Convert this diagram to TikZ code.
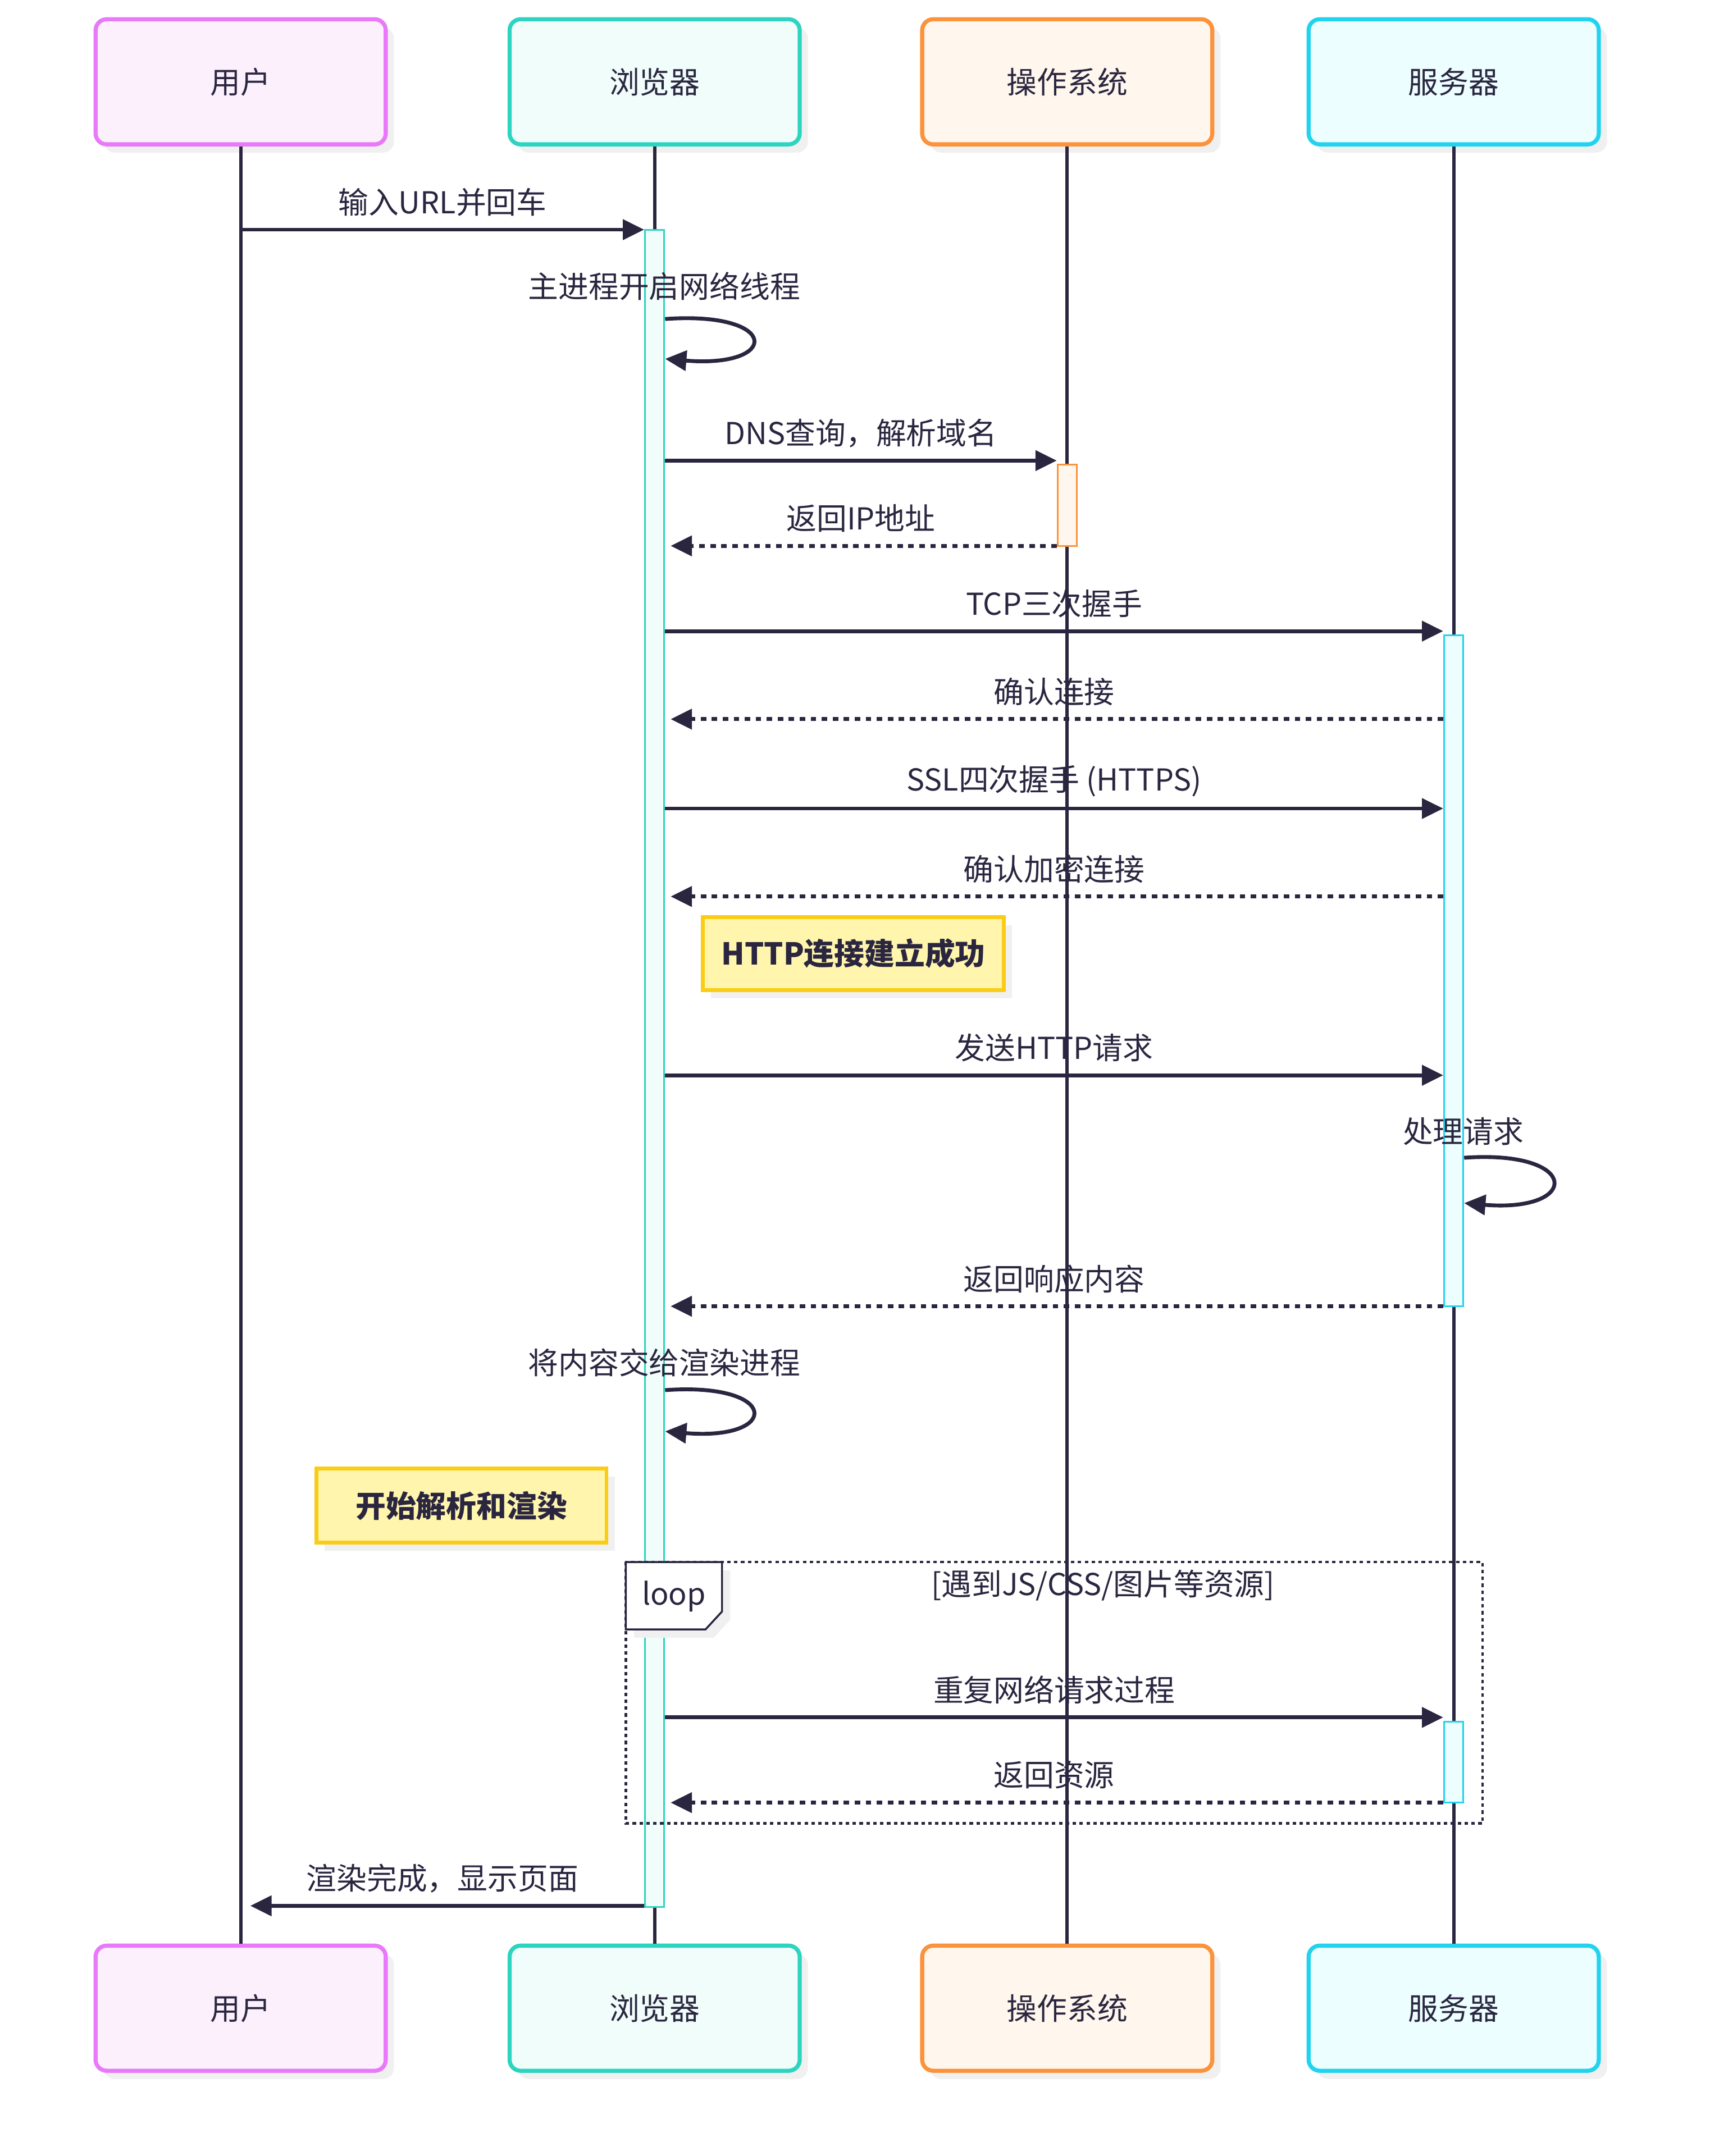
\documentclass[tikz,border=0pt]{standalone}
\usepackage{fontspec}
\setmainfont{Noto Sans CJK SC}
\usetikzlibrary{arrows.meta,shadows}
\definecolor{seqink}{HTML}{2A2640}
\definecolor{userline}{HTML}{E879F9}
\definecolor{userfill}{HTML}{FDF0FD}
\definecolor{browline}{HTML}{2DD4BF}
\definecolor{browfill}{HTML}{F0FDFA}
\definecolor{osline}{HTML}{FB923C}
\definecolor{osfill}{HTML}{FFF7ED}
\definecolor{servline}{HTML}{22D3EE}
\definecolor{servfill}{HTML}{ECFEFF}
\definecolor{noteline}{HTML}{FACC15}
\definecolor{notefill}{HTML}{FFF5AD}

\begin{document}
\begin{tikzpicture}[x=0.02cm, y=-0.02cm,
    every node/.style={font=\fontsize{12.5}{15}\selectfont, text=seqink},
    shade/.style={drop shadow={shadow xshift=0.12cm, shadow yshift=-0.12cm, fill=black!6, opacity=1}},
    actor/.style={draw, line width=1.7pt, rounded corners=0.16cm,
      minimum width=4.22cm, minimum height=1.82cm, shade},
    life/.style={draw=seqink, line width=1.4pt},
    act/.style={draw, line width=0.7pt, minimum width=0.28cm, inner sep=0pt},
    msg/.style={draw=seqink, line width=1.6pt, -{Triangle[length=0.31cm, width=0.29cm]}},
    reply/.style={msg, dash pattern=on 0.08cm off 0.08cm, shorten >=0.08cm},
    lbl/.style={midway, yshift=0.4cm},
    note/.style={draw=noteline, fill=notefill, line width=1.6pt, shade,
      font=\fontsize{12.5}{15}\selectfont\bfseries}]
  \useasboundingbox (0,0) rectangle (1243,1568);

  % participants, top and bottom
  \node[actor, draw=userline, fill=userfill] (uTop) at (175,59.5) {用户};
  \node[actor, draw=browline, fill=browfill] (bTop) at (476,59.5) {浏览器};
  \node[actor, draw=osline, fill=osfill]     (oTop) at (776,59.5) {操作系统};
  \node[actor, draw=servline, fill=servfill] (sTop) at (1057,59.5) {服务器};
  \node[actor, draw=userline, fill=userfill] (uBot) at (175,1460.5) {用户};
  \node[actor, draw=browline, fill=browfill] (bBot) at (476,1460.5) {浏览器};
  \node[actor, draw=osline, fill=osfill]     (oBot) at (776,1460.5) {操作系统};
  \node[actor, draw=servline, fill=servfill] (sBot) at (1057,1460.5) {服务器};

  % lifelines
  \draw[life] (uTop.south) -- (uBot.north);
  \draw[life] (bTop.south) -- (bBot.north);
  \draw[life] (oTop.south) -- (oBot.north);
  \draw[life] (sTop.south) -- (sBot.north);

  % activations
  \node[act, draw=browline, fill=browfill, minimum height=24.4cm] (bAct) at (476,777) {};
  \node[act, draw=osline, fill=osfill, minimum height=1.18cm] (oAct) at (776,367.5) {};
  \node[act, draw=servline, fill=servfill, minimum height=9.76cm] (sAct) at (1057,706) {};
  \node[act, draw=servline, fill=servfill, minimum height=1.18cm] (sAct2) at (1057,1281.5) {};

  % message rows
  \coordinate (r1) at (0,167);
  \coordinate (s1a) at (0,232);  \coordinate (s1b) at (0,261);
  \coordinate (r3) at (0,335);
  \coordinate (r4) at (0,397);
  \coordinate (r5) at (0,459);
  \coordinate (r6) at (0,523);
  \coordinate (r7) at (0,588);
  \coordinate (r8) at (0,652);
  \coordinate (r9) at (0,782);
  \coordinate (s2a) at (0,842);  \coordinate (s2b) at (0,875);
  \coordinate (r11) at (0,950);
  \coordinate (s3a) at (0,1011); \coordinate (s3b) at (0,1041);
  \coordinate (r13) at (0,1249);
  \coordinate (r14) at (0,1311);
  \coordinate (r15) at (0,1386);

  \draw[msg] (uTop |- r1) -- node[lbl] {输入URL并回车} (bAct.west |- r1);

  % browser starts its network thread
  \node (selfB1) at (483,208) {主进程开启网络线程};
  \draw[msg] (bAct.east |- s1a) .. controls +(84,-6) and +(84,7) .. (bAct.east |- s1b);

  \draw[msg] (bAct.east |- r3) -- node[lbl] {DNS查询，解析域名} (oAct.west |- r3);
  \draw[reply] (oAct.west |- r4) -- node[lbl] {返回IP地址} (bAct.east |- r4);
  \draw[msg] (bAct.east |- r5) -- node[lbl] {TCP三次握手} (sAct.west |- r5);
  \draw[reply] (sAct.west |- r6) -- node[lbl] {确认连接} (bAct.east |- r6);
  \draw[msg] (bAct.east |- r7) -- node[lbl] {SSL四次握手 (HTTPS)} (sAct.west |- r7);
  \draw[reply] (sAct.west |- r8) -- node[lbl] {确认加密连接} (bAct.east |- r8);

  \node[note, minimum width=4.38cm, minimum height=1.06cm] (httpOk) at (620.5,693.5) {HTTP连接建立成功};

  \draw[msg] (bAct.east |- r9) -- node[lbl] {发送HTTP请求} (sAct.west |- r9);

  % server works on the request
  \node (selfS) at (1064,823) {处理请求};
  \draw[msg] (sAct.east |- s2a) .. controls +(85,-6) and +(85,7) .. (sAct.east |- s2b);

  \draw[reply] (sAct.west |- r11) -- node[lbl] {返回响应内容} (bAct.east |- r11);

  % hand over to the renderer
  \node (selfB2) at (483,991) {将内容交给渲染进程};
  \draw[msg] (bAct.east |- s3a) .. controls +(84,-6) and +(84,7) .. (bAct.east |- s3b);

  \node[note, minimum width=4.22cm, minimum height=1.08cm] (renderNote) at (335.5,1095) {开始解析和渲染};

  % loop over sub-resources
  \draw[seqink, line width=1.1pt, dash pattern=on 0.05cm off 0.05cm] (455,1136) rectangle (1078,1326);
  \draw[seqink, fill=white, line width=0.8pt, shade]
    (455,1136) -- (525,1136) -- (525,1172) -- (513,1185) -- (455,1185) -- cycle;
  \node (loopTag) at (490,1161) {loop};
  \node (loopCond) at (802,1153) {[遇到JS/CSS/图片等资源]};

  \draw[msg] (bAct.east |- r13) -- node[lbl] {重复网络请求过程} (sAct2.west |- r13);
  \draw[reply] (sAct2.west |- r14) -- node[lbl] {返回资源} (bAct.east |- r14);

  \draw[msg, shorten >=0.14cm] (bAct.west |- r15) -- node[lbl] {渲染完成，显示页面} (uTop |- r15);
\end{tikzpicture}
\end{document}
